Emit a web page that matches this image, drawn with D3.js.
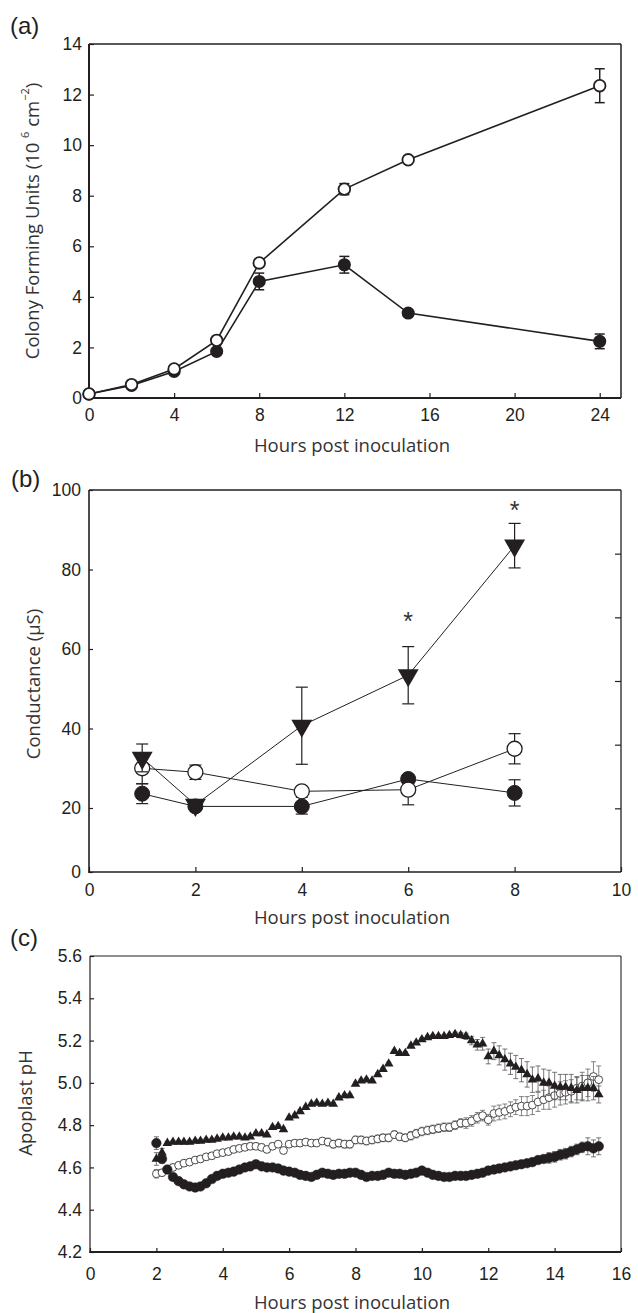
<!DOCTYPE html>
<html>
<head>
<meta charset="utf-8">
<script src="https://cdn.jsdelivr.net/npm/d3@7"></script>
<style>
body{margin:0;background:#fff;}
svg{display:block;}
</style>
</head>
<body>
<svg id="chart"></svg>
<script>
// ---- panel (a): colony forming units ----
var hoursA = [0,2,4,6,8,12,15,24];
var cfuOpen = [0.16,0.53,1.15,2.28,5.34,8.26,9.42,12.35];
var cfuOpenErr = [0.05,0.05,0.06,0.05,0.1,0.22,0.06,0.67];
var cfuFilled = [0.16,0.5,1.05,1.84,4.61,5.27,3.36,2.24];
var cfuFilledErr = [0.05,0.05,0.05,0.1,0.33,0.33,0.1,0.29];
var ticksAx = [0,4,8,12,16,20,24];
var ticksAy = [0,2,4,6,8,10,12,14];

// ---- panel (b): conductance ----
var hoursB = [1,2,4,6,8];
var condTri = [32.6,20.8,40.7,53.4,86];
var condTriErr = [3.5,0.5,9.7,7.2,5.6];
var condOpen = [30,29,24.2,24.6,34.9];
var condOpenErr = [3.9,1.8,0.6,3.8,3.8];
var condFilled = [23.6,20.4,20.4,27.3,23.8];
var condFilledErr = [2.5,0.5,2.3,0.8,3.3];
var starsB = [[6,68.2],[8,96.2]];
var ticksBx = [0,2,4,6,8,10];
var ticksBy = [0,20,40,60,80,100];
var ticksBright = [20,40,60,80,100];

// ---- panel (c): apoplast pH ----
var hoursC = [2,2.17,2.33,2.5,2.67,2.83,3,3.17,3.33,3.5,
  3.67,3.83,4,4.17,4.33,4.5,4.67,4.83,5,5.17,
  5.33,5.5,5.67,5.83,6,6.17,6.33,6.5,6.67,6.83,
  7,7.17,7.33,7.5,7.67,7.83,8,8.17,8.33,8.5,
  8.67,8.83,9,9.17,9.33,9.5,9.67,9.83,10,10.17,
  10.33,10.5,10.67,10.83,11,11.17,11.33,11.5,11.67,11.83,
  12,12.17,12.33,12.5,12.67,12.83,13,13.17,13.33,13.5,
  13.67,13.83,14,14.17,14.33,14.5,14.67,14.83,15,15.17,
  15.33];
var phTri = [4.64,4.67,4.715,4.72,4.72,4.72,4.72,4.725,4.725,4.73,
  4.73,4.735,4.74,4.74,4.745,4.745,4.74,4.745,4.76,4.76,
  4.755,4.79,4.795,4.78,4.835,4.845,4.865,4.885,4.9,4.905,
  4.9,4.905,4.9,4.93,4.94,4.94,4.995,5.01,5.015,5.01,
  5.04,5.065,5.09,5.15,5.14,5.14,5.175,5.19,5.205,5.215,
  5.22,5.22,5.22,5.225,5.23,5.225,5.22,5.2,5.18,5.185,
  5.125,5.15,5.13,5.11,5.09,5.075,5.06,5.04,5.015,5.02,
  5,5,4.985,4.98,4.98,4.975,4.965,4.975,4.975,4.975,
  4.945];
var phTriErr = [.03,.02,.008,.008,.008,.008,.008,.008,.008,.008,
  .008,.008,.008,.008,.008,.008,.008,.008,.008,.008,
  .008,.008,.008,.008,.008,.008,.008,.008,.008,.008,
  .008,.008,.008,.008,.008,.008,.008,.008,.008,.008,
  .008,.008,.008,.008,.008,.008,.008,.008,.008,.008,
  .008,.008,.008,.008,.01,.012,.015,.02,.025,.03,
  .035,.04,.045,.05,.05,.055,.055,.06,.06,.06,
  .065,.06,.065,.06,.06,.065,.06,.06,.06,.055,
  .04];
var phOpen = [4.57,4.575,4.59,4.6,4.61,4.62,4.625,4.635,4.64,4.65,
  4.655,4.665,4.67,4.675,4.685,4.69,4.695,4.7,4.7,4.695,
  4.685,4.7,4.71,4.68,4.71,4.715,4.715,4.72,4.715,4.715,
  4.725,4.72,4.71,4.715,4.71,4.71,4.73,4.73,4.725,4.73,
  4.735,4.74,4.74,4.755,4.745,4.74,4.75,4.76,4.77,4.775,
  4.78,4.785,4.79,4.79,4.8,4.81,4.81,4.82,4.835,4.845,
  4.825,4.855,4.86,4.865,4.875,4.885,4.89,4.89,4.895,4.91,
  4.92,4.93,4.94,4.95,4.955,4.96,4.975,4.985,5,5.03,
  5.015];
var phOpenErr = [.02,.015,.015,.015,.015,.015,.015,.015,.015,.015,
  .015,.015,.015,.015,.015,.015,.015,.015,.015,.015,
  .015,.015,.015,.015,.015,.015,.015,.015,.015,.015,
  .015,.018,.018,.018,.018,.018,.018,.018,.018,.018,
  .018,.018,.018,.018,.018,.018,.02,.02,.02,.02,
  .02,.02,.02,.02,.02,.02,.025,.025,.025,.025,
  .025,.035,.035,.035,.035,.035,.045,.045,.045,.045,
  .045,.055,.055,.055,.055,.055,.055,.065,.065,.07,
  .065];
var phFilled = [4.715,4.64,4.59,4.555,4.535,4.52,4.51,4.505,4.51,4.525,
  4.545,4.56,4.57,4.575,4.58,4.59,4.6,4.605,4.615,4.605,
  4.6,4.6,4.595,4.585,4.58,4.575,4.565,4.56,4.555,4.565,
  4.575,4.57,4.565,4.57,4.57,4.575,4.575,4.565,4.555,4.56,
  4.56,4.565,4.575,4.57,4.57,4.565,4.57,4.575,4.585,4.575,
  4.565,4.56,4.555,4.555,4.56,4.56,4.56,4.565,4.57,4.575,
  4.585,4.59,4.595,4.6,4.605,4.61,4.615,4.62,4.625,4.635,
  4.64,4.645,4.65,4.66,4.665,4.675,4.685,4.695,4.7,4.69,
  4.7];
var phFilledErr = [.03,.02,.015,.015,.015,.015,.015,.015,.015,.015,
  .015,.015,.015,.015,.015,.015,.015,.015,.015,.015,
  .015,.015,.015,.015,.015,.015,.015,.015,.015,.015,
  .015,.015,.015,.015,.015,.015,.015,.015,.015,.015,
  .015,.015,.015,.015,.015,.015,.015,.015,.015,.015,
  .015,.015,.015,.015,.015,.015,.015,.015,.015,.015,
  .015,.015,.015,.015,.015,.015,.015,.015,.015,.015,
  .015,.025,.025,.025,.025,.025,.025,.025,.04,.04,
  .04];
var ticksCx = [0,2,4,6,8,10,12,14,16];
var ticksCy = [4.2,4.4,4.6,4.8,5.0,5.2,5.4,5.6];

var ink = '#231f20';
var numFont = '"Liberation Sans", Arial, sans-serif';
var titleFont = '"Open Sans", "Noto Sans", sans-serif';

var svg = d3.select('#chart')
            .attr('width',638)
            .attr('height',1313);

var styleAxis = function(g, size)
{
  g.select('.domain').remove();
  g.attr('font-family',null).attr('font-size',null);
  g.selectAll('line').attr('stroke',ink).attr('stroke-width',1.2);
  g.selectAll('text')
   .attr('font-family',numFont)
   .attr('font-size',size)
   .attr('fill',ink);
}

var drawBox = function(x0,x1,y0,y1,wLeft,wBottom,wOther)
{
  svg.append('line').attr('x1',x0).attr('x2',x1).attr('y1',y0).attr('y2',y0)
     .attr('stroke',ink).attr('stroke-width',wOther);
  svg.append('line').attr('x1',x1).attr('x2',x1).attr('y1',y0).attr('y2',y1)
     .attr('stroke',ink).attr('stroke-width',wOther);
  svg.append('line').attr('x1',x0).attr('x2',x0).attr('y1',y0).attr('y2',y1+wBottom/2)
     .attr('stroke',ink).attr('stroke-width',wLeft);
  svg.append('line').attr('x1',x0-wLeft/2).attr('x2',x1).attr('y1',y1).attr('y2',y1)
     .attr('stroke',ink).attr('stroke-width',wBottom);
}

var errorBars = function(xs, ys, es, xScale, yScale, cap, color, sw)
{
  var g = svg.append('g').attr('stroke',color).attr('stroke-width',sw);
  xs.forEach(function(d,i){
    var x = xScale(d), top = yScale(ys[i]+es[i]), bot = yScale(ys[i]-es[i]);
    g.append('line').attr('x1',x).attr('x2',x).attr('y1',top).attr('y2',bot);
    g.append('line').attr('x1',x-cap).attr('x2',x+cap).attr('y1',top).attr('y2',top);
    g.append('line').attr('x1',x-cap).attr('x2',x+cap).attr('y1',bot).attr('y2',bot);
  });
}

var circles = function(xs, ys, xScale, yScale, r, fill, sw)
{
  svg.append('g').selectAll('circle')
     .data(xs)
     .enter()
     .append('circle')
     .attr('cx',function(d){ return xScale(d); })
     .attr('cy',function(d,i){ return yScale(ys[i]); })
     .attr('r',r)
     .attr('fill',fill)
     .attr('stroke',ink)
     .attr('stroke-width',sw);
}

var triangles = function(xs, ys, xScale, yScale, size, down)
{
  var sym = d3.symbol().type(d3.symbolTriangle).size(size);
  svg.append('g').selectAll('path')
     .data(xs)
     .enter()
     .append('path')
     .attr('d',sym)
     .attr('transform',function(d,i){
       return 'translate('+xScale(d)+','+yScale(ys[i])+')'+(down ? ' rotate(180)' : '');
     })
     .attr('fill',ink);
}

var seriesLine = function(xs, ys, xScale, yScale, sw)
{
  var line = d3.line()
               .x(function(d){ return xScale(d); })
               .y(function(d,i){ return yScale(ys[i]); });
  svg.append('path')
     .datum(xs)
     .attr('d',line)
     .attr('fill','none')
     .attr('stroke',ink)
     .attr('stroke-width',sw);
}

var xTitle = function(x, y, txt)
{
  svg.append('text')
     .attr('x',x).attr('y',y)
     .attr('text-anchor','middle')
     .attr('font-family',titleFont)
     .attr('font-size',18.5)
     .attr('fill','#333')
     .text(txt);
}

var yTitle = function(x, y, txt)
{
  return svg.append('text')
     .attr('transform','translate('+x+','+y+') rotate(-90)')
     .attr('text-anchor','middle')
     .attr('dominant-baseline','central')
     .attr('font-family',titleFont)
     .attr('font-size',18.5)
     .attr('fill','#333')
     .text(txt);
}

var panelLabel = function(x, y, txt)
{
  svg.append('text')
     .attr('x',x).attr('y',y)
     .attr('font-family',numFont)
     .attr('font-size',24)
     .attr('fill',ink)
     .text(txt);
}

// ================= panel (a) =================
var xA = d3.scaleLinear().domain([0,25]).range([89,621]);
var yA = d3.scaleLinear().domain([0,14]).range([398,44]);

svg.append('g')
   .attr('transform','translate(0,398)')
   .call(d3.axisBottom(xA).tickValues(ticksAx).tickSizeInner(-5).tickSizeOuter(0).tickPadding(11))
   .call(styleAxis,17.5);
svg.append('g')
   .attr('transform','translate(89,0)')
   .call(d3.axisLeft(yA).tickValues(ticksAy).tickSizeInner(-5).tickSizeOuter(0).tickPadding(7))
   .call(styleAxis,17.5);
drawBox(89,621,44,398,2,2,1.5);

seriesLine(hoursA, cfuFilled, xA, yA, 1.6);
seriesLine(hoursA, cfuOpen, xA, yA, 1.6);
errorBars(hoursA, cfuFilled, cfuFilledErr, xA, yA, 5, ink, 1.5);
errorBars(hoursA, cfuOpen, cfuOpenErr, xA, yA, 5, ink, 1.5);
circles(hoursA, cfuFilled, xA, yA, 5.8, ink, 1.5);
circles(hoursA, cfuOpen, xA, yA, 5.8, '#fff', 1.8);

panelLabel(10,34,'(a)');
xTitle(352,452,'Hours post inoculation');
var tA = yTitle(31,221,'Colony Forming Units (10 ');
tA.append('tspan').attr('font-size',11).attr('dy',-7).text('6');
tA.append('tspan').attr('dy',7).text(' cm');
tA.append('tspan').attr('font-size',11).attr('dy',-7).text('\u22122');
tA.append('tspan').attr('dy',7).text(')');

// ================= panel (b) =================
var xB = d3.scaleLinear().domain([0,10]).range([89,621]);
var yB = d3.scaleLinear().domain([0,20,100]).range([872,808,490]);
var yBright = d3.scaleLinear().domain([0,120]).range([872,490]);

svg.append('g')
   .attr('transform','translate(0,872)')
   .call(d3.axisBottom(xB).tickValues(ticksBx).tickSizeInner(-5).tickSizeOuter(0).tickPadding(12))
   .call(styleAxis,17.5);
svg.append('g')
   .attr('transform','translate(89,0)')
   .call(d3.axisLeft(yB).tickValues(ticksBy).tickSizeInner(-4).tickSizeOuter(0).tickPadding(8))
   .call(styleAxis,17.5);
svg.append('g')
   .attr('transform','translate(621,0)')
   .call(d3.axisRight(yBright).tickValues(ticksBright).tickSizeInner(-6).tickSizeOuter(0).tickFormat(''))
   .call(styleAxis,17.5);
drawBox(89,621,490,872,1.6,1.6,1.3);

seriesLine(hoursB, condFilled, xB, yB, 1);
seriesLine(hoursB, condOpen, xB, yB, 1);
seriesLine(hoursB, condTri, xB, yB, 1);
errorBars(hoursB, condFilled, condFilledErr, xB, yB, 6, ink, 1.2);
circles(hoursB, condFilled, xB, yB, 7.5, ink, 1);
errorBars(hoursB, condOpen, condOpenErr, xB, yB, 6, ink, 1.2);
circles(hoursB, condOpen, xB, yB, 7.5, '#fff', 1.3);
errorBars(hoursB, condTri, condTriErr, xB, yB, 6, ink, 1.2);
triangles(hoursB, condTri, xB, yB, 190, true);

svg.append('g').selectAll('text')
   .data(starsB)
   .enter()
   .append('text')
   .attr('x',function(d){ return xB(d[0]); })
   .attr('y',function(d){ return yB(d[1]); })
   .attr('dy',14)
   .attr('text-anchor','middle')
   .attr('font-family',numFont)
   .attr('font-size',25)
   .attr('fill','#333')
   .text('*');

panelLabel(11,487,'(b)');
xTitle(352,924,'Hours post inoculation');
yTitle(32,684,'Conductance (\u00b5S)');

// ================= panel (c) =================
var xC = d3.scaleLinear().domain([0,16]).range([90,621]);
var yC = d3.scaleLinear().domain([4.2,5.6]).range([1252,956]);

svg.append('g')
   .attr('transform','translate(0,1252)')
   .call(d3.axisBottom(xC).tickValues(ticksCx).tickSizeInner(-4).tickSizeOuter(0).tickPadding(16))
   .call(styleAxis,17.5);
svg.append('g')
   .attr('transform','translate(90,0)')
   .call(d3.axisLeft(yC).tickValues(ticksCy).tickSizeInner(-4).tickSizeOuter(0).tickPadding(8).tickFormat(d3.format('.1f')))
   .call(styleAxis,17.5);
drawBox(90,621,956,1252,1.2,2.2,1.1);

errorBars(hoursC, phOpen, phOpenErr, xC, yC, 2.5, '#666', 0.8);
circles(hoursC, phOpen, xC, yC, 3.9, '#fff', 0.8);
errorBars(hoursC, phTri, phTriErr, xC, yC, 2.5, '#555', 0.8);
triangles(hoursC, phTri, xC, yC, 40, false);
errorBars(hoursC, phFilled, phFilledErr, xC, yC, 2.5, '#555', 0.8);
circles(hoursC, phFilled, xC, yC, 4.8, ink, 0.5);

panelLabel(10,946,'(c)');
xTitle(352,1309,'Hours post inoculation');
yTitle(24,1103,'Apoplast pH');
</script>
</body>
</html>
